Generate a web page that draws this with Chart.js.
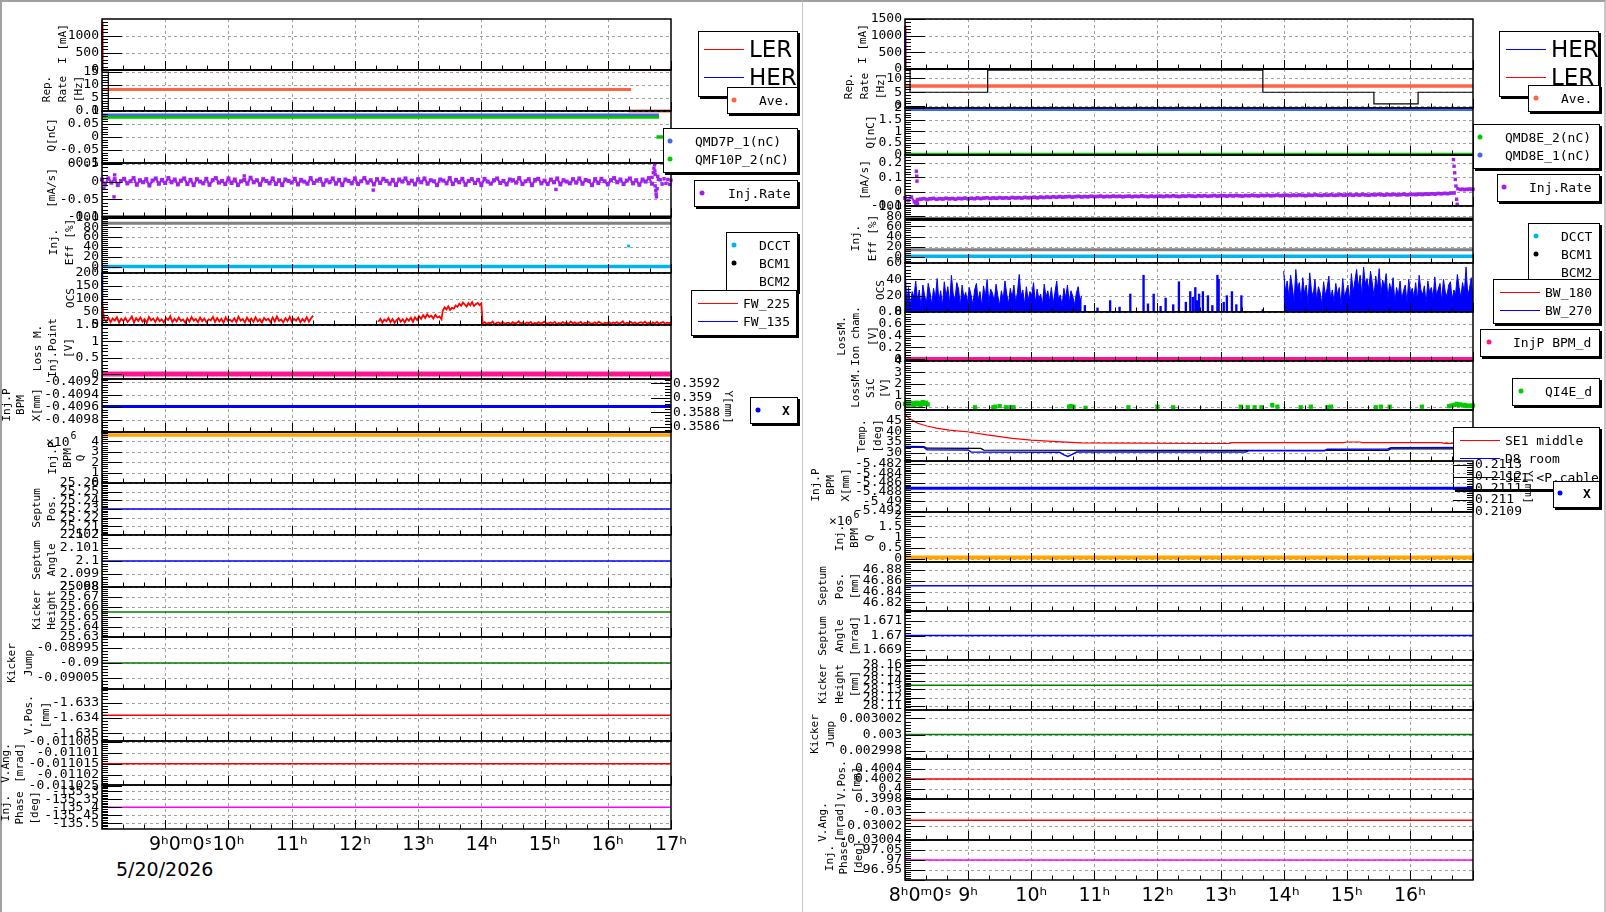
<!DOCTYPE html>
<html>
<head>
<meta charset="utf-8">
<title>Injection monitor</title>
<script src="https://cdn.jsdelivr.net/npm/chart.js@4.4.1/dist/chart.umd.min.js"></script>
<style>
  body { margin: 0; background: #fff; }
  #page { position: relative; width: 1606px; height: 912px; overflow: hidden; background: #fff; }
  #page canvas { position: absolute; }
  .pad { position: absolute; top: 0; height: 912px; box-sizing: border-box; border-top: 2px solid #a0a0a0; }
  .leg { position: absolute; box-sizing: border-box; background: #fff; border: 1px solid #000; box-shadow: 2px 2px 0 #000; font: 13px 'DejaVu Sans Mono', monospace; color: #000; }
  .leg.big { font: 23px 'DejaVu Sans', sans-serif; }
  .leg span { position: absolute; white-space: nowrap; line-height: 1; transform: translateY(-50%); }
  .leg .ln { position: absolute; height: 1px; width: 40px; }
  .leg .dot { position: absolute; width: 5px; height: 5px; border-radius: 50%; transform: translate(-50%, -50%); }
  #date { position: absolute; left: 116px; top: 860px; font: 19px 'DejaVu Sans', sans-serif; line-height: 1; }
</style>
</head>
<body>
<div id="page">
  <div class="pad" style="left:0;width:803px;border-left:2px solid #a0a0a0;"></div>
  <div class="pad" style="left:802px;width:804px;border-left:1px solid #c8c8c8;border-right:2px solid #c8c8c8;"></div>
  <div id="date">5/20/2026</div>
</div>
<script>
// ---------- time axis (hours) ----------
const hourTicks = [8, 9, 10, 11, 12, 13, 14, 15, 16, 17];
const timeLabelsL = ['', '     9ʰ0ᵐ0ˢ', '10ʰ', '11ʰ', '12ʰ', '13ʰ', '14ʰ', '15ʰ', '16ʰ', '17ʰ'];
const timeLabelsR = ['     8ʰ0ᵐ0ˢ', '9ʰ', '10ʰ', '11ʰ', '12ʰ', '13ʰ', '14ʰ', '15ʰ', '16ʰ', ''];

// ---------- y tick values, left page ----------
const tkCurrentL = [0, 500, 1000];
const tkRepRateL = [0, 5, 10, 15];
const tkChargeL = [-0.1, -0.05, 0, 0.05, 0.1];
const tkInjRateL = [-0.1, -0.05, 0, 0.05];
const tkEffL = [0, 20, 40, 60, 80, 100];
const tkOcsL = [0, 50, 100, 150, 200];
const tkLossL = [0, 0.5, 1, 1.5];
const tkBpmXL = [-0.4098, -0.4096, -0.4094, -0.4092];
const tkBpmYL = [0.3586, 0.3588, 0.359, 0.3592];
const tkBpmQL = [0, 1, 2, 3, 4];
const tkSeptPosL = [25.2, 25.21, 25.22, 25.23, 25.24, 25.25, 25.26];
const tkSeptAngL = [2.098, 2.099, 2.1, 2.101, 2.102];
const tkKickHL = [25.63, 25.64, 25.65, 25.66, 25.67, 25.68];
const tkKickJL = [-0.09005, -0.09, -0.08995];
const tkVPosL = [-1.635, -1.634, -1.633];
const tkVAngL = [-0.011025, -0.01102, -0.011015, -0.01101, -0.011005];
const tkPhaseL = [-135.5, -135.45, -135.4, -135.35, -135.3];

// ---------- y tick values, right page ----------
const tkCurrentR = [0, 500, 1000, 1500];
const tkRepRateR = [0, 5, 10];
const tkChargeR = [0, 0.5, 1, 1.5, 2];
const tkInjRateR = [-0.1, 0, 0.1, 0.2];
const tkEffR = [0, 20, 40, 60, 80, 100];
const tkOcsR = [0, 20, 40, 60];
const tkLossIonR = [0, 0.2, 0.4, 0.6, 0.8];
const tkLossSicR = [0, 1, 2, 3, 4];
const tkTempR = [30, 35, 40, 45];
const tkBpmXR = [-5.492, -5.49, -5.488, -5.486, -5.484, -5.482];
const tkBpmYR = [0.2109, 0.211, 0.2111, 0.2112, 0.2113];
const tkBpmQR = [0, 0.5, 1, 1.5, 2];
const tkSeptPosR = [46.82, 46.84, 46.86, 46.88];
const tkSeptAngR = [1.669, 1.67, 1.671];
const tkKickHR = [28.11, 28.12, 28.13, 28.14, 28.15, 28.16];
const tkKickJR = [0.002998, 0.003, 0.003002];
const tkVPosR = [0.3998, 0.4, 0.4002, 0.4004];
const tkVAngR = [-0.03004, -0.03002, -0.03];
const tkPhaseR = [96.95, 97, 97.05];

// ---------- left page series: [hour, value] ----------
const lerCurrentL = [[8, 1400], [8.012, 0], [17, 0]];
const herCurrentL = [[8, 1150], [8.006, 0], [17, 0]];
const repRateL = [[8, 15], [8.1, 15], [8.1, 0], [17, 0]];
const repRateAveL = [[8, 8.3], [16.37, 8.3], [16.37, null], [16.33, 0], [17, 0]];
const chargeQmd7pL = [[8, 0.086], [16.81, 0.086]];
const chargeQmf10pL = [[8, 0.077], [16.81, 0.077], [16.81, null], [16.77, 0], [17, 0]];
// injection rate, one sample every 3 min from 8:00 to 16:42
const injRateL = [
  0.006,-0.008,0.009,-0.003,0.007,-0.010,0.002,0.008,-0.005,0.001,0.010,-0.009,0.004,-0.002,0.007,-0.011,0.003,0.009,-0.006,0.005,-0.004,0.010,-0.002,0.006,-0.008,
  0.003,0.009,-0.007,0.005,-0.010,0.007,0.000,-0.005,0.008,-0.009,0.004,0.010,-0.003,0.002,-0.007,0.009,-0.004,0.006,-0.010,0.001,0.005,-0.006,0.011,-0.002,0.004,
  -0.009,0.007,0.002,-0.005,0.009,-0.007,0.004,-0.010,0.006,0.002,-0.003,0.008,-0.008,0.005,0.000,-0.006,0.010,-0.004,0.003,0.007,-0.009,0.004,-0.002,0.009,-0.006,
  0.005,-0.010,0.006,0.002,-0.005,0.009,-0.007,0.001,0.010,-0.003,0.004,-0.008,0.007,-0.004,0.008,0.002,-0.006,0.005,-0.010,0.006,0.000,0.009,-0.005,0.003,-0.008,
  0.007,-0.002,0.009,-0.006,0.004,0.001,-0.010,0.006,0.003,-0.005,0.010,-0.007,0.005,-0.002,0.008,-0.009,0.002,0.007,-0.004,0.005,-0.010,0.008,0.000,-0.006,0.004,
  0.009,-0.004,0.002,-0.008,0.006,0.004,-0.003,0.010,-0.007,0.001,0.007,-0.010,0.005,0.008,-0.005,0.003,-0.007,0.006,-0.002,0.009,-0.008,0.004,0.000,-0.005,0.007,
  -0.003,0.009,-0.006,0.005,0.002,-0.010,0.007,-0.004,0.008,0.001,-0.008,0.004,0.010,-0.002,0.006,-0.007,0.003,0.009,-0.005,0.004,-0.009,0.006,0.000,0.010,-0.006
];
const injRateExtraL = [[8.03, -0.019], [8.19, -0.043], [8.2, 0.019], [10.25, 0.016], [12.29, -0.024], [15.18, -0.022],
  [16.7, 0.012], [16.72, 0.025], [16.73, 0.038], [16.74, 0.048], [16.745, 0.03], [16.75, 0.02], [16.75, -0.012],
  [16.76, -0.025], [16.765, -0.035], [16.77, -0.043], [16.78, -0.02], [16.79, 0.015], [16.8, 0.006],
  [16.83, 0.005], [16.86, -0.007], [16.89, 0.008], [16.92, -0.005], [16.95, 0.006], [16.98, -0.008], [17, 0.004]];
const effBcm1L = [[8, 100], [17, 100]];
const effBcm2L = [[8, 88], [17, 88]];
const effDcctL = [[8, 0.5], [17, 0.5]];
const effDcctDotL = [[16.33, 42]];
// OCS FW_225, four runs of samples
const ocsFw225A = [90,22,14,28,11,25,17,30,9,24,15,27,12,21,33,10,26,16,29,13,23,8,31,18,25,12,28,15,22,10,
  27,19,34,11,24,14,29,16,21,9,26,13,30,17,23,11,28,15,25,10,22,18,31,12,27,14,24,9,29,16,
  21,13,26,11,32,17,23,10,28,15,25,12,30,14,22,9,27,18,24,11,29,13,33,16,21,10,26,15,31,12,
  24,17,28,11,23,14,30,13,26,36];
const ocsFw225B = [12,24,9,21,15,27,11,23,8,19,26,13,22,10,25,16,28,12,30,19,34,24,38,27,41,31,36,25,39,29,33,22];
const ocsFw225C = [55,68,60,72,58,66,63,75,70,82,74,86,78,71,84,76,88,73,80,85,77,83];
const ocsFw225D = [5,11,4,9,6,13,3,8,10,5,12,4,7,9,3,11,6,8,14,5,9,4,10,7,12,3,8,6,11,5,9,13,4,7,10,6,12,3,8,5,
  11,7,9,4,13,6,10,5,8,12,3,9,7,11,4,6,10,5,13,8,3,9,6,12,4,10,7,11,5,8,14,3,9,6,12,5,10,4,8,11,
  7,13,5,9,3,10,6,12,4,8,11,5,9,7,10];
const ocsFw135L = [[8, 200], [8.008, 0], [17, 0]];
const lossInjPointL = [[8, 0.01], [17, 0.01]];
const bpmXL = [[8, -0.40959], [17, -0.40959]];
const bpmQL = [[8, 4.6], [17, 4.6]];
const septPosL = [[8, 25.23], [17, 25.23]];
const septAngL = [[8, 2.1], [17, 2.1]];
const kickHL = [[8, 25.655], [17, 25.655]];
const kickJL = [[8, -0.09], [17, -0.09]];
const vPosL = [[8, -1.63382], [17, -1.63382]];
const vAngL = [[8, -0.011015], [17, -0.011015]];
const phaseL = [[8, -135.4], [17, -135.4]];

// ---------- right page series ----------
const herCurrentR = [[8, 1160], [8.006, 0], [17, 0]];
const lerCurrentR = [[8, 1300], [8.012, 0], [17, 0]];
const repRateR = [[8, 13], [8.08, 13], [8.08, 5], [9.31, 5], [9.31, 13], [13.67, 13], [13.67, 5], [15.43, 5], [15.43, 0.8], [16.13, 0.8], [16.13, 5], [17, 5]];
const repRateAveR = [[8, 7.25], [17, 7.25]];
const chargeQmd8e1R = [[8, 1.93], [17, 1.93]];
const chargeQmd8e2R = [[8, 0], [17, 0]];
// injection rate, one sample every 3 min from 8:00 to 16:42
const injRateR = [
  -0.045,-0.062,-0.038,-0.070,-0.055,
  -0.052,-0.049,-0.054,-0.050,-0.047,-0.053,-0.049,-0.051,-0.046,-0.050,-0.048,-0.052,-0.047,-0.049,-0.045,-0.050,
  -0.046,-0.049,-0.044,-0.048,-0.045,-0.043,-0.047,-0.044,-0.046,-0.042,-0.045,-0.043,-0.046,-0.041,-0.044,-0.042,-0.045,-0.040,-0.043,-0.041,
  -0.039,-0.043,-0.038,-0.041,-0.037,-0.040,-0.036,-0.039,-0.035,-0.038,-0.036,-0.034,-0.038,-0.035,-0.033,-0.037,-0.034,-0.036,-0.032,-0.035,
  -0.034,-0.031,-0.036,-0.033,-0.035,-0.031,-0.034,-0.032,-0.036,-0.033,-0.031,-0.035,-0.032,-0.034,-0.030,-0.033,-0.035,-0.031,-0.034,-0.032,
  -0.031,-0.034,-0.030,-0.033,-0.029,-0.032,-0.034,-0.030,-0.032,-0.028,-0.031,-0.033,-0.029,-0.031,-0.028,-0.032,-0.030,-0.027,-0.031,-0.029,
  -0.028,-0.031,-0.027,-0.030,-0.026,-0.029,-0.031,-0.027,-0.029,-0.025,-0.028,-0.030,-0.026,-0.028,-0.025,-0.029,-0.027,-0.024,-0.028,-0.026,
  -0.025,-0.028,-0.024,-0.027,-0.023,-0.026,-0.028,-0.024,-0.026,-0.022,-0.025,-0.027,-0.023,-0.025,-0.022,-0.026,-0.024,-0.021,-0.025,-0.023,
  -0.022,-0.025,-0.021,-0.024,-0.020,-0.023,-0.025,-0.021,-0.023,-0.019,-0.022,-0.024,-0.020,-0.022,-0.019,-0.023,-0.021,-0.018,-0.022,-0.020,
  -0.019,-0.021,-0.017,-0.020,-0.016,-0.018,-0.015,-0.017,-0.013,-0.015,-0.012,-0.014,-0.010,-0.009
];
const injRateExtraR = [[8.18, 0.142], [8.185, 0.108], [8.19, 0.073], [8.19, -0.07], [8.2, -0.088], [8.17, -0.08],
  [16.69, 0.223], [16.7, 0.177], [16.71, 0.131], [16.72, 0.085], [16.73, 0.039], [16.74, -0.053], [16.75, -0.088], [16.76, 0.02],
  [16.8, 0.014], [16.83, 0.018], [16.86, 0.013], [16.89, 0.017], [16.92, 0.015], [16.95, 0.019], [16.98, 0.014], [17, 0.016]];
const effBcm1R = [[8, 74], [17, 74]];
const effBcm2R = [[8, 14], [17, 14]];
const effDcctR = [[8, 1], [17, 1]];
// OCS BW_270: dense run, sparse spikes, dense run
const ocsBw270A = [55,12,30,8,25,18,38,14,27,6,33,20,11,35,24,9,29,16,41,13,26,7,37,19,31,10,45,22,15,36,
  28,8,33,17,24,12,30,21,9,27,35,14,25,7,32,18,40,11,28,23,13,34,20,8,26,15,38,22,10,29,
  17,33,12,24,46,19,27,9,31,14,25,20,36,11,28,16,22,8,34,18,26,13,30,10,24,38,15,21,7,29,
  17,33,12,26,19,9,23,31,14,20];
const ocsBw270B = [[10.85, 8], [11.05, 5], [11.25, 14], [11.4, 6], [11.57, 22], [11.78, 45], [11.85, 10], [11.94, 22],
  [12.05, 7], [12.13, 17], [12.25, 9], [12.34, 37], [12.45, 12], [12.52, 25], [12.56, 18], [12.6, 30], [12.63, 14],
  [12.66, 22], [12.72, 25], [12.8, 20], [12.87, 8], [12.95, 45], [12.97, 40], [13.05, 12], [13.1, 20], [13.18, 25],
  [13.25, 9], [13.33, 20], [13.67, 3]];
const ocsBw270C = [50,25,38,18,45,30,12,52,28,36,15,42,22,33,10,48,26,19,40,14,31,24,9,37,20,29,44,16,27,12,
  35,21,30,8,41,18,26,33,13,47,24,38,52,30,45,20,55,34,41,27,50,36,18,44,29,53,22,39,31,47,
  16,35,25,42,12,30,20,38,15,26,33,11,40,23,29,18,36,14,45,27,21,32,10,38,24,30,17,43,20,28,
  35,13,40,25,19,33,37,15,27,22,46,30,18,36,24,55,20,29,42,15];
const ocsBw180R = [[8, 0.3], [17, 0.3]];
const lossIonR = [[8, 0], [17, 0]];
const lossSicR = [[8, 0.25], [8.02, 0.1], [8.04, 0.3], [8.06, 0.15], [8.08, 0.35], [8.1, 0.2], [8.12, 0.3], [8.14, 0.1],
  [8.16, 0.25], [8.18, 0.35], [8.2, 0.2], [8.22, 0.3], [8.25, 0.15], [8.28, 0.4], [8.3, 0.25], [8.33, 0.35], [8.36, 0.2],
  [9.11, -0.05], [9.4, -0.05], [9.43, 0], [9.5, 0.05], [9.6, -0.05], [9.67, -0.05], [9.72, -0.05], [10.6, 0], [10.63, 0.05],
  [10.67, 0], [10.86, -0.1], [11.54, -0.05], [12, 0], [12.25, -0.05], [13.32, 0], [13.43, -0.05], [13.54, -0.05],
  [13.65, -0.05], [13.82, 0.15], [13.9, 0], [14.27, -0.05], [14.43, 0], [14.69, -0.05], [14.75, 0], [15.46, -0.05],
  [15.54, 0], [15.68, 0], [16.19, 0], [16.62, 0.05], [16.66, 0.1], [16.7, 0.15], [16.74, 0.25], [16.77, 0.15], [16.8, 0.2],
  [16.84, 0.1], [16.87, 0.15], [16.9, 0.05], [16.94, 0.1], [16.97, 0.05], [17, 0.1]];
const tempSe1MidR = [[8, 48], [8.05, 46.5], [8.1, 45.5], [8.2, 43.8], [8.35, 42.5], [8.5, 41.5], [8.7, 40.6], [8.98, 39.8],
  [9.3, 38.3], [9.7, 36.7], [10, 35.9], [10.4, 35.2], [10.8, 34.6], [12.68, 34.3], [13.15, 34.3], [13.17, 34.7],
  [14.95, 34.7], [15, 35], [15.2, 35], [15.25, 34.7], [16.5, 34.7], [16.55, 34.4], [17, 34.4]];
const tempD8RoomR = [[8, 32.6], [8.3, 32.5], [8.35, 31.4], [9, 31.3], [9.05, 30.3], [10.45, 30.2], [10.52, 29], [10.58, 28.2],
  [10.65, 29.2], [10.72, 30.3], [13.4, 30.3], [13.44, 30.9], [14.65, 30.9], [14.69, 31.6], [15.65, 31.7], [15.7, 32.3], [17, 32.4]];
const tempSe1CableR = [[8, 33], [8.3, 32.9], [8.35, 32.1], [9.2, 32], [9.25, 31.2], [12.7, 31.1], [15.65, 31.1], [15.7, 31.8], [17, 31.8]];
const bpmXR = [[8, -5.4872], [17, -5.4872]];
const bpmQR = [[8, 0.05], [17, 0.05]];
const septPosR = [[8, 46.851], [17, 46.851]];
const septAngR = [[8, 1.67], [17, 1.67]];
const kickHR = [[8, 28.135], [17, 28.135]];
const kickJR = [[8, 0.003], [17, 0.003]];
const vPosR = [[8, 0.4002], [17, 0.4002]];
const vAngR = [[8, -0.030012], [17, -0.030012]];
const phaseR = [[8, 97], [17, 97]];

// ---------- styles ----------
const RED = '#ff0000', BLUE = '#0000ff', TOMATO = '#ff6347', ROYAL = '#4169e1', GREEN = '#00c800',
  PURPLE = '#a020f0', GRAY = '#808080', CYAN = '#00b4f0', PINK = '#ff1493', ORANGE = '#ffa500',
  DKGREEN = '#008000', MAGENTA = '#ff00ff', LIME = '#00cc00';
const TICK_FONT = {family: "'DejaVu Sans Mono', monospace", size: 13};
const TITLE_FONT = "11px 'DejaVu Sans Mono', monospace";
const PAD = 12, AXIS_H = 32, COL_W = 803;

function pts(a) { return a.map(p => ({x: p[0], y: p[1]})); }
function spread(t0, t1, vals) {
  const n = vals.length - 1;
  return vals.map((v, i) => ({x: t0 + (t1 - t0) * i / n, y: v}));
}
function line(data, color, w) {
  return {type: 'line', data, borderColor: color, borderWidth: w, pointRadius: 0, fill: false, tension: 0, spanGaps: false, clip: 3};
}
function area(data, color) {
  return {type: 'line', data, borderColor: color, backgroundColor: color, borderWidth: 1, pointRadius: 0, fill: 'origin', tension: 0, clip: 0};
}
function dots(data, color, r, w) {
  return {type: 'line', data, showLine: !!w, borderWidth: w || 0, pointStyle: 'rect', pointRadius: r, pointBorderWidth: 0,
    pointBackgroundColor: color, borderColor: color, tension: 0, clip: 3};
}
function bars(data, color) {
  return {type: 'bar', data, backgroundColor: color, borderWidth: 0, barThickness: 1.7, grouped: false};
}

const colL = {left: 0, plotL: 102, plotR: 671, tMin: 8, tMax: 17, labels: timeLabelsL};
const colR = {left: 803, plotL: 905, plotR: 1473, tMin: 8, tMax: 17, labels: timeLabelsR};

const panelsL = [
  {t: 19, b: 70, min: 0, max: 1480, ticks: tkCurrentL, title: ['I [mA]'], tx: [63], ty: 44,
    sets: [line(pts(lerCurrentL), RED, 1.5), line(pts(herCurrentL), BLUE, 1.5)]},
  {t: 70, b: 111, min: 0, max: 15.8, ticks: tkRepRateL, title: ['Rep.', 'Rate', '[Hz]'], tx: [47, 63, 79], ty: 89,
    sets: [line(pts(repRateL), '#000', 1.2), line(pts(repRateAveL), TOMATO, 3)]},
  {t: 111, b: 163, min: -0.1, max: 0.1, ticks: tkChargeL, title: ['Q[nC]'], tx: [52], ty: 135,
    sets: [line(pts(chargeQmd7pL), ROYAL, 2.5), line(pts(chargeQmf10pL), GREEN, 3.5)]},
  {t: 163, b: 217, min: -0.1, max: 0.0526, ticks: tkInjRateL, title: ['[mA/s]'], tx: [52], ty: 188,
    sets: [dots(spread(8, 16.7, injRateL), PURPLE, 2.8, 2.2), dots(pts(injRateExtraL), PURPLE, 2.4)]},
  {t: 217, b: 273, min: -12.5, max: 100.5, ticks: tkEffL, title: ['Inj.', 'Eff [%]'], tx: [54, 70], ty: 242,
    sets: [line(pts(effBcm2L), GRAY, 3), line(pts(effBcm1L), '#000', 3.5), line(pts(effDcctL), CYAN, 3.5), dots(pts(effDcctDotL), CYAN, 2)]},
  {t: 273, b: 325, min: 0, max: 200, ticks: tkOcsL, title: ['OCS'], tx: [71], ty: 298,
    sets: [line([].concat(spread(8, 11.34, ocsFw225A), [{x: 11.35, y: null}], spread(12.37, 13.37, ocsFw225B),
      spread(13.39, 14, ocsFw225C), spread(14.02, 17, ocsFw225D)), RED, 1.8), line(pts(ocsFw135L), BLUE, 1.5)]},
  {t: 325, b: 379, min: -0.14, max: 1.5, ticks: tkLossL, title: ['Loss M.', 'Inj.Point', '[V]'], tx: [38, 53, 69], ty: 348,
    sets: [line(pts(lossInjPointL), PINK, 5)]},
  {t: 379, b: 432, min: -0.41, max: -0.40915, ticks: tkBpmXL, title: ['Inj.P', 'BPM', 'X[mm]'], tx: [7, 21, 37], ty: 405,
    y2: {min: 0.358527, max: 0.359259, ticks: tkBpmYL, title: 'Y[mm]', tx: 728, ty: 407},
    sets: [line(pts(bpmXL), BLUE, 3)]},
  {t: 432, b: 483, min: 0, max: 4.9, ticks: tkBpmQL, title: ['Inj.P', 'BPM', 'Q'], tx: [53, 68, 81], ty: 458,
    exp: {x: 46, y: 443, sup: '6'}, sets: [line(pts(bpmQL), ORANGE, 3.5)]},
  {t: 483, b: 535, min: 25.2, max: 25.26, ticks: tkSeptPosL, title: ['Septum', 'Pos.'], tx: [37, 52], ty: 508,
    sets: [line(pts(septPosL), BLUE, 1.5)]},
  {t: 535, b: 587, min: 2.098, max: 2.102, ticks: tkSeptAngL, title: ['Septum', 'Angle'], tx: [37, 52], ty: 560,
    sets: [line(pts(septAngL), BLUE, 1.5)]},
  {t: 587, b: 637, min: 25.63, max: 25.68, ticks: tkKickHL, title: ['Kicker', 'Height'], tx: [37, 52], ty: 610,
    sets: [line(pts(kickHL), DKGREEN, 1.5)]},
  {t: 637, b: 689, min: -0.0900867, max: -0.0899133, ticks: tkKickJL, title: ['Kicker', 'Jump'], tx: [12, 29], ty: 663,
    sets: [line(pts(kickJL), DKGREEN, 1.5)]},
  {t: 689, b: 741, min: -1.6355, max: -1.63212, ticks: tkVPosL, title: ['V.Pos.', '[mm]'], tx: [29, 46], ty: 715,
    sets: [line(pts(vPosL), RED, 1.5)]},
  {t: 741, b: 785, min: -0.0110247, max: -0.0110047, ticks: tkVAngL, title: ['V.Ang.', '[mrad]'], tx: [6, 20], ty: 763,
    sets: [line(pts(vAngL), RED, 1.5)]},
  {t: 785, b: 829, min: -135.536, max: -135.26, ticks: tkPhaseL, title: ['Inj.', 'Phase', '[deg]'], tx: [6, 20, 35], ty: 808,
    sets: [line(pts(phaseL), MAGENTA, 1.5)]}
];

const panelsR = [
  {t: 19, b: 69, min: 0, max: 1500, ticks: tkCurrentR, title: ['I [mA]'], tx: [863], ty: 44,
    sets: [line(pts(herCurrentR), BLUE, 1.5), line(pts(lerCurrentR), RED, 1.5)]},
  {t: 69, b: 108, min: -0.7, max: 13.4, ticks: tkRepRateR, title: ['Rep.', 'Rate', '[Hz]'], tx: [849, 865, 881], ty: 86,
    sets: [line(pts(repRateR), '#000', 1.2), line(pts(repRateAveR), TOMATO, 3.5)]},
  {t: 108, b: 155, min: -0.03, max: 2, ticks: tkChargeR, title: ['Q[nC]'], tx: [871], ty: 132,
    sets: [line(pts(chargeQmd8e1R), ROYAL, 3), line(pts(chargeQmd8e2R), GREEN, 3)]},
  {t: 155, b: 206, min: -0.1, max: 0.255, ticks: tkInjRateR, title: ['[mA/s]'], tx: [865], ty: 180,
    sets: [dots(spread(8, 16.7, injRateR), PURPLE, 2.6, 2), dots(pts(injRateExtraR), PURPLE, 2.4)]},
  {t: 206, b: 263, min: -12.5, max: 100.5, ticks: tkEffR, title: ['Inj.', 'Eff [%]'], tx: [856, 873], ty: 238,
    sets: [line(pts(effBcm2R), GRAY, 3), line(pts(effBcm1R), '#000', 3.5), line(pts(effDcctR), CYAN, 3.5)]},
  {t: 263, b: 312, min: 0, max: 60, ticks: tkOcsR, title: ['OCS'], tx: [881], ty: 290,
    sets: [area(spread(8, 10.8, ocsBw270A), BLUE), bars(pts(ocsBw270B), BLUE), area(spread(14, 17, ocsBw270C), BLUE),
      line(pts(ocsBw180R), RED, 1.2)]},
  {t: 312, b: 361, min: -0.03, max: 0.8, ticks: tkLossIonR, title: ['LossM.', 'Ion cham.', '[V]'], tx: [842, 856, 873], ty: 336,
    sets: [line(pts(lossIonR), PINK, 4.5)]},
  {t: 361, b: 410, min: -0.29, max: 4, ticks: tkLossSicR, title: ['LossM.', 'SiC', '[V]'], tx: [856, 871, 885], ty: 388,
    sets: [dots(pts(lossSicR), LIME, 3)]},
  {t: 410, b: 461, min: 26.1, max: 50, ticks: tkTempR, title: ['Temp.', '[deg]'], tx: [862, 878], ty: 436,
    sets: [line(pts(tempSe1MidR), RED, 1.2), line(pts(tempD8RoomR), BLUE, 1.5), line(pts(tempSe1CableR), '#000', 1.2)]},
  {t: 461, b: 512, min: -5.49227, max: -5.48136, ticks: tkBpmXR, title: ['Inj.P', 'BPM', 'X[mm]'], tx: [816, 831, 846], ty: 485,
    y2: {min: 0.210895, max: 0.211334, ticks: tkBpmYR, title: 'Y[mm]', tx: 1528, ty: 487},
    sets: [line(pts(bpmXR), BLUE, 3)]},
  {t: 512, b: 562, min: -0.16, max: 2.175, ticks: tkBpmQR, title: ['Inj.', 'BPM', 'Q'], tx: [840, 855, 870], ty: 538,
    exp: {x: 829, y: 522, sup: '6'}, sets: [line(pts(bpmQR), ORANGE, 4)]},
  {t: 562, b: 611, min: 46.804, max: 46.895, ticks: tkSeptPosR, title: ['Septum', 'Pos.', '[mm]'], tx: [823, 840, 855], ty: 586,
    sets: [line(pts(septPosR), BLUE, 1.5)]},
  {t: 611, b: 660, min: 1.66831, max: 1.67169, ticks: tkSeptAngR, title: ['Septum', 'Angle', '[mrad]'], tx: [823, 840, 855], ty: 636,
    sets: [line(pts(septAngR), BLUE, 1.5)]},
  {t: 660, b: 710, min: 28.1048, max: 28.1657, ticks: tkKickHR, title: ['Kicker', 'Height', '[mm]'], tx: [823, 840, 855], ty: 684,
    sets: [line(pts(kickHR), DKGREEN, 1.5)]},
  {t: 710, b: 759, min: 0.00299698, max: 0.00300302, ticks: tkKickJR, title: ['Kicker', 'Jump'], tx: [815, 831], ty: 734,
    sets: [line(pts(kickJR), DKGREEN, 1.5)]},
  {t: 759, b: 799, min: 0.3998, max: 0.4006, ticks: tkVPosR, title: ['V.Pos.', '[mm]'], tx: [842, 857], ty: 780,
    sets: [line(pts(vPosR), RED, 1.5)]},
  {t: 799, b: 840, min: -0.0300403, max: -0.0299814, ticks: tkVAngR, title: ['V.Ang.', '[mrad]'], tx: [823, 840], ty: 822,
    sets: [line(pts(vAngR), RED, 1.5)]},
  {t: 840, b: 880, min: 96.9, max: 97.1, ticks: tkPhaseR, title: ['Inj.', 'Phase', '[deg]'], tx: [830, 844, 859], ty: 858,
    sets: [line(pts(phaseR), MAGENTA, 1.5)]}
];

// legend boxes: [x, y, w, h] and item anchors in page pixels; z puts a box between two panels
const legends = [
  {box: [698, 31, 100, 66], big: true, items: [
    {k: 'line', c: RED, x: 704, y: 49, t: 'LER', tx: 749}, {k: 'line', c: BLUE, x: 704, y: 77, t: 'HER', tx: 749}]},
  {box: [727, 87, 71, 27], items: [{k: 'dot', c: TOMATO, x: 734, y: 100, t: 'Ave.', tx: 759}]},
  {box: [663, 128, 135, 45], items: [
    {k: 'dot', c: ROYAL, x: 670, y: 141, t: 'QMD7P_1(nC)', tx: 695}, {k: 'dot', c: GREEN, x: 670, y: 159, t: 'QMF10P_2(nC)', tx: 695}]},
  {box: [694, 180, 104, 27], items: [{k: 'dot', c: PURPLE, x: 702, y: 193, t: 'Inj.Rate', tx: 728}]},
  {box: [726, 232, 72, 60], items: [
    {k: 'dot', c: CYAN, x: 734, y: 245, t: 'DCCT', tx: 759}, {k: 'dot', c: '#000', x: 734, y: 263, t: 'BCM1', tx: 759},
    {k: 'none', y: 281, t: 'BCM2', tx: 759}]},
  {box: [691, 290, 106, 46], items: [
    {k: 'line', c: RED, x: 698, y: 303, t: 'FW_225', tx: 743}, {k: 'line', c: BLUE, x: 698, y: 321, t: 'FW_135', tx: 743}]},
  {box: [750, 397, 48, 27], items: [{k: 'dot', c: BLUE, x: 758, y: 410, t: 'X', tx: 782, b: true}]},

  {box: [1499, 31, 100, 66], big: true, items: [
    {k: 'line', c: BLUE, x: 1506, y: 49, t: 'HER', tx: 1551}, {k: 'line', c: RED, x: 1506, y: 77, t: 'LER', tx: 1551}]},
  {box: [1528, 85, 72, 27], items: [{k: 'dot', c: TOMATO, x: 1536, y: 98, t: 'Ave.', tx: 1561}]},
  {box: [1473, 124, 127, 45], items: [
    {k: 'dot', c: GREEN, x: 1480, y: 137, t: 'QMD8E_2(nC)', tx: 1505}, {k: 'dot', c: ROYAL, x: 1480, y: 155, t: 'QMD8E_1(nC)', tx: 1505}]},
  {box: [1497, 174, 103, 28], items: [{k: 'dot', c: PURPLE, x: 1504, y: 187, t: 'Inj.Rate', tx: 1529}]},
  {box: [1528, 223, 72, 63], items: [
    {k: 'dot', c: CYAN, x: 1536, y: 236, t: 'DCCT', tx: 1561}, {k: 'dot', c: '#000', x: 1536, y: 254, t: 'BCM1', tx: 1561},
    {k: 'none', y: 272, t: 'BCM2', tx: 1561}]},
  {box: [1493, 279, 107, 45], items: [
    {k: 'line', c: RED, x: 1500, y: 292, t: 'BW_180', tx: 1545}, {k: 'line', c: BLUE, x: 1500, y: 310, t: 'BW_270', tx: 1545}]},
  {box: [1480, 329, 120, 28], items: [{k: 'dot', c: PINK, x: 1489, y: 342, t: 'InjP BPM_d', tx: 1513}]},
  {box: [1512, 378, 88, 28], items: [{k: 'dot', c: LIME, x: 1521, y: 391, t: 'QI4E_d', tx: 1545}]},
  {box: [1453, 427, 147, 63], z: 27, items: [
    {k: 'line', c: RED, x: 1460, y: 440, t: 'SE1 middle', tx: 1505}, {k: 'line', c: BLUE, x: 1460, y: 458, t: 'D8 room', tx: 1505},
    {k: 'line', c: '#000', x: 1460, y: 477, t: 'SE1 <P.cable', tx: 1505}]},
  {box: [1553, 481, 47, 27], items: [{k: 'dot', c: BLUE, x: 1560, y: 493, t: 'X', tx: 1583, b: true}]}
];

// ---------- ROOT-like frame, grid, ticks and titles ----------
const specs = new WeakMap();

function yTicks(ctx, sc, x0, dir) {
  const vt = sc.ticks.map(t => t.value);
  const step = (vt[1] - vt[0]) / 5;
  let m = 0;
  while (vt[0] - (m + 1) * step >= sc.min - step * 1e-6) m++;
  for (let k = 0; ; k++) {
    const v = vt[0] + (k - m) * step;
    if (v > sc.max + step * 1e-6) break;
    const py = Math.round(sc.getPixelForValue(v)) + 0.5;
    ctx.moveTo(x0, py);
    ctx.lineTo(x0 + dir * ((k - m) % 5 === 0 ? 20 : 6), py);
  }
}

function rotText(ctx, txt, x, y, ang) {
  ctx.save();
  ctx.translate(x, y);
  ctx.rotate(ang);
  ctx.fillText(txt, 0, 0);
  ctx.restore();
}

const rootStyle = {
  id: 'rootStyle',
  beforeDatasetsDraw(chart) {
    const {ctx, chartArea: a, scales} = chart;
    ctx.save();
    ctx.beginPath();
    ctx.rect(a.left, a.top, a.right - a.left, a.bottom - a.top);
    ctx.clip();
    ctx.strokeStyle = '#a0a0a0';
    ctx.lineWidth = 1;
    ctx.setLineDash([3, 3]);
    ctx.beginPath();
    scales.x.ticks.forEach(t => {
      const px = Math.round(scales.x.getPixelForValue(t.value)) + 0.5;
      ctx.moveTo(px, a.top);
      ctx.lineTo(px, a.bottom);
    });
    scales.y.ticks.forEach(t => {
      const py = Math.round(scales.y.getPixelForValue(t.value)) + 0.5;
      ctx.moveTo(a.left, py);
      ctx.lineTo(a.right, py);
    });
    ctx.stroke();
    ctx.restore();
  },
  afterDraw(chart) {
    const s = specs.get(chart.canvas);
    const {ctx, chartArea: a, scales} = chart;
    ctx.save();
    ctx.strokeStyle = '#000';
    ctx.lineWidth = 1;
    ctx.beginPath();
    const xt = scales.x.ticks.map(t => t.value);
    const xs = (xt[1] - xt[0]) / 3;
    for (let k = 0; xt[0] + k * xs <= scales.x.max + 1e-9; k++) {
      const px = Math.round(scales.x.getPixelForValue(xt[0] + k * xs)) + 0.5;
      ctx.moveTo(px, a.bottom);
      ctx.lineTo(px, a.bottom - (k % 3 ? 4.5 : 9));
    }
    yTicks(ctx, scales.y, a.left, 1);
    if (scales.y2) yTicks(ctx, scales.y2, a.right, -1);
    ctx.stroke();
    ctx.lineWidth = 1.5;
    ctx.strokeRect(a.left, a.top, a.right - a.left, a.bottom - a.top);

    ctx.fillStyle = '#000';
    ctx.font = TITLE_FONT;
    ctx.textAlign = 'center';
    ctx.textBaseline = 'middle';
    s.p.title.forEach((txt, i) => rotText(ctx, txt, s.p.tx[i] - s.dx, s.p.ty - s.dy, -Math.PI / 2));
    if (s.p.y2) rotText(ctx, s.p.y2.title, s.p.y2.tx - s.dx, s.p.y2.ty - s.dy, Math.PI / 2);
    if (s.p.exp) {
      ctx.textAlign = 'left';
      ctx.font = "13px 'DejaVu Sans Mono', monospace";
      ctx.fillText('×10', s.p.exp.x - s.dx, s.p.exp.y - s.dy);
      const w = ctx.measureText('×10').width;
      ctx.font = "10px 'DejaVu Sans Mono', monospace";
      ctx.fillText(s.p.exp.sup, s.p.exp.x - s.dx + w + 1, s.p.exp.y - s.dy - 7);
    }
    ctx.restore();
  }
};

const page = document.getElementById('page');

function drawColumn(col, panels) {
  panels.forEach((p, k) => {
    const last = k === panels.length - 1;
    const cv = document.createElement('canvas');
    const h = p.b - p.t + PAD + (last ? AXIS_H : PAD);
    cv.width = COL_W;
    cv.height = h;
    cv.style.left = col.left + 'px';
    cv.style.top = (p.t - PAD) + 'px';
    cv.style.zIndex = 10 + 2 * k;
    page.appendChild(cv);
    specs.set(cv, {p, dx: col.left, dy: p.t - PAD});

    const y2W = p.y2 ? 70 : 0;
    const scales = {
      x: {
        type: 'linear', min: col.tMin, max: col.tMax, offset: false,
        grid: {display: false, drawTicks: false}, border: {display: false},
        afterBuildTicks: sc => { sc.ticks = hourTicks.map(v => ({value: v})); },
        afterFit: sc => { sc.height = last ? AXIS_H : 0; },
        ticks: {display: last, autoSkip: false, maxRotation: 0, minRotation: 0, padding: 5, color: '#000',
          font: {family: "'DejaVu Sans', sans-serif", size: 19}, callback: (v, i) => col.labels[i]}
      },
      y: {
        type: 'linear', position: 'left', min: p.min, max: p.max,
        grid: {display: false, drawTicks: false}, border: {display: false},
        afterBuildTicks: sc => { sc.ticks = p.ticks.map(v => ({value: v})); },
        afterFit: sc => { sc.width = col.plotL - col.left; },
        ticks: {autoSkip: false, padding: 3, color: '#000', font: TICK_FONT, callback: v => String(v)}
      }
    };
    if (p.y2) {
      scales.y2 = {
        type: 'linear', position: 'right', min: p.y2.min, max: p.y2.max,
        grid: {display: false, drawTicks: false}, border: {display: false},
        afterBuildTicks: sc => { sc.ticks = p.y2.ticks.map(v => ({value: v})); },
        afterFit: sc => { sc.width = y2W; },
        ticks: {autoSkip: false, padding: 2, color: '#000', font: TICK_FONT, callback: v => String(v)}
      };
    }

    new Chart(cv, {
      type: 'line',
      data: {datasets: p.sets},
      options: {
        responsive: false,
        animation: false,
        devicePixelRatio: 1,
        events: [],
        layout: {padding: {left: 0, right: col.left + COL_W - col.plotR - y2W, top: PAD, bottom: last ? 0 : PAD}},
        plugins: {legend: {display: false}, tooltip: {enabled: false}},
        scales
      },
      plugins: [rootStyle]
    });
  });
}

function addLegend(L) {
  const [bx, by, bw, bh] = L.box;
  const d = document.createElement('div');
  d.className = 'leg' + (L.big ? ' big' : '');
  Object.assign(d.style, {left: bx + 'px', top: by + 'px', width: bw + 'px', height: bh + 'px', zIndex: L.z || 100});
  L.items.forEach(it => {
    if (it.k === 'line' || it.k === 'dot') {
      const m = document.createElement('i');
      m.className = it.k === 'line' ? 'ln' : 'dot';
      m.style.left = (it.x - bx - 1) + 'px';
      m.style.top = (it.y - by - 1) + 'px';
      m.style.background = it.c;
      d.appendChild(m);
    }
    const s = document.createElement('span');
    s.textContent = it.t;
    s.style.left = (it.tx - bx - 1) + 'px';
    s.style.top = (it.y - by - 1) + 'px';
    if (it.b) s.style.fontWeight = 'bold';
    d.appendChild(s);
  });
  page.appendChild(d);
}

drawColumn(colL, panelsL);
drawColumn(colR, panelsR);
legends.forEach(addLegend);
</script>
</body>
</html>
